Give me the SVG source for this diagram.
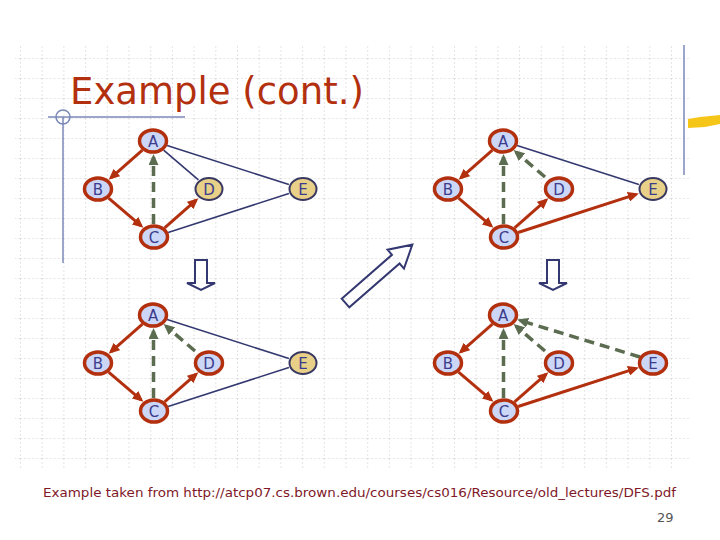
<svg xmlns="http://www.w3.org/2000/svg" width="720" height="540" viewBox="0 0 720 540">
<defs>
<pattern id="grid" x="20" y="58" width="21.7" height="20" patternUnits="userSpaceOnUse">
<path d="M0 0H21.7M0 0V20" stroke="#cccccc" stroke-width="1" stroke-dasharray="2 2" fill="none"/>
</pattern>
<marker id="ar" markerUnits="userSpaceOnUse" markerWidth="12" markerHeight="10" refX="8" refY="5" orient="auto">
<path d="M0,0 L11,5 L0,10 z" fill="#b3300f"/>
</marker>
<marker id="ag" markerUnits="userSpaceOnUse" markerWidth="12" markerHeight="10" refX="8" refY="5" orient="auto">
<path d="M0,0 L11,5 L0,10 z" fill="#5c6c50"/>
</marker>
</defs>
<style>
.v ellipse{fill:#ccd6f6;stroke:#b3300f;stroke-width:3.5}
.u ellipse{fill:#e8d088;stroke:#383862;stroke-width:2}
.n text{font-family:"DejaVu Sans",Verdana,sans-serif;font-size:15px;fill:#3c3c8c;text-anchor:middle}
.t{stroke:#b3300f;stroke-width:3;fill:none;marker-end:url(#ar)}
.b{stroke:#5c6c50;stroke-width:3.5;fill:none;stroke-dasharray:10 6;marker-end:url(#ag)}
.x{stroke:#343870;stroke-width:1.6;fill:none}
.big{fill:none;stroke:#343870;stroke-width:2;stroke-linejoin:miter}
</style>
<rect width="720" height="540" fill="#ffffff"/>
<rect x="15" y="46" width="675" height="422" fill="url(#grid)"/>

<g id="decor">
<line x1="48" y1="117" x2="185" y2="117" stroke="#7a88b8" stroke-width="1.5"/>
<circle cx="63" cy="117" r="7" fill="none" stroke="#7a88b8" stroke-width="1.5"/>
<line x1="63" y1="117" x2="63" y2="263" stroke="#7a88b8" stroke-width="1.5"/>
<line x1="684" y1="45" x2="684" y2="175" stroke="#7a88b8" stroke-width="1.5"/>
<polygon points="688,119 700,117 720,115 720,124 705,127 688,128" fill="#f5c518"/>
</g>

<text x="70" y="104" font-family="'DejaVu Sans',Verdana,sans-serif" font-size="37" fill="#b3300f">Example (cont.)</text>

<g id="connectors">
<g transform="translate(153,141)">
<line class="x" x1="10.6" y1="9.1" x2="45.4" y2="38.9"/>
<line class="x" x1="14.1" y1="4.5" x2="135.9" y2="43.5"/>
<line class="x" x1="15.1" y1="91.5" x2="135.9" y2="52.5"/>
<line class="t" x1="-10.6" y1="9.2" x2="-42.1" y2="36.8"/>
<line class="t" x1="-44.4" y1="57.1" x2="-11.9" y2="84.9"/>
<line class="t" x1="11.6" y1="86.8" x2="43.1" y2="59.2"/>
<line class="b" x1="0.5" y1="83" x2="0.5" y2="16"/>
</g>
<g transform="translate(503,141)">
<line class="x" x1="14.1" y1="4.5" x2="135.9" y2="43.5"/>
<line class="t" x1="-10.6" y1="9.2" x2="-42.1" y2="36.8"/>
<line class="t" x1="-44.4" y1="57.1" x2="-11.9" y2="84.9"/>
<line class="t" x1="11.6" y1="86.8" x2="43.1" y2="59.2"/>
<line class="t" x1="15.1" y1="91.5" x2="133" y2="53.4"/>
<line class="b" x1="0.5" y1="83" x2="0.5" y2="16"/>
<line class="b" x1="42" y1="36" x2="12.9" y2="11"/>
</g>
<g transform="translate(153,315)">
<line class="x" x1="14.1" y1="4.5" x2="135.9" y2="43.5"/>
<line class="x" x1="15.1" y1="91.5" x2="135.9" y2="52.5"/>
<line class="t" x1="-10.6" y1="9.2" x2="-42.1" y2="36.8"/>
<line class="t" x1="-44.4" y1="57.1" x2="-11.9" y2="84.9"/>
<line class="t" x1="11.6" y1="86.8" x2="43.1" y2="59.2"/>
<line class="b" x1="0.5" y1="83" x2="0.5" y2="16"/>
<line class="b" x1="42" y1="36" x2="12.9" y2="11"/>
</g>
<g transform="translate(503,315)">
<line class="t" x1="-10.6" y1="9.2" x2="-42.1" y2="36.8"/>
<line class="t" x1="-44.4" y1="57.1" x2="-11.9" y2="84.9"/>
<line class="t" x1="11.6" y1="86.8" x2="43.1" y2="59.2"/>
<line class="t" x1="15.1" y1="91.5" x2="133" y2="53.4"/>
<line class="b" x1="0.5" y1="83" x2="0.5" y2="16"/>
<line class="b" x1="42" y1="36" x2="12.9" y2="11"/>
<line class="b" x1="137" y1="42" x2="17" y2="5.4"/>
</g>
</g>

<g id="g1-A" class="n v" transform="translate(153,141)"><ellipse rx="13.5" ry="11"/><text y="5.5">A</text></g>
<g id="g1-B" class="n v" transform="translate(98,189)"><ellipse rx="13.5" ry="11"/><text y="5.5">B</text></g>
<g id="g1-D" class="n u" transform="translate(209,189)"><ellipse rx="13.5" ry="11"/><text y="5.5">D</text></g>
<g id="g1-E" class="n u" transform="translate(303,189)"><ellipse rx="13.5" ry="11"/><text y="5.5">E</text></g>
<g id="g1-C" class="n v" transform="translate(154,237)"><ellipse rx="13.5" ry="11"/><text y="5.5">C</text></g>

<g id="g2-A" class="n v" transform="translate(503,141)"><ellipse rx="13.5" ry="11"/><text y="5.5">A</text></g>
<g id="g2-B" class="n v" transform="translate(448,189)"><ellipse rx="13.5" ry="11"/><text y="5.5">B</text></g>
<g id="g2-D" class="n v" transform="translate(559,189)"><ellipse rx="13.5" ry="11"/><text y="5.5">D</text></g>
<g id="g2-E" class="n u" transform="translate(653,189)"><ellipse rx="13.5" ry="11"/><text y="5.5">E</text></g>
<g id="g2-C" class="n v" transform="translate(504,237)"><ellipse rx="13.5" ry="11"/><text y="5.5">C</text></g>

<g id="g3-A" class="n v" transform="translate(153,315)"><ellipse rx="13.5" ry="11"/><text y="5.5">A</text></g>
<g id="g3-B" class="n v" transform="translate(98,363)"><ellipse rx="13.5" ry="11"/><text y="5.5">B</text></g>
<g id="g3-D" class="n v" transform="translate(209,363)"><ellipse rx="13.5" ry="11"/><text y="5.5">D</text></g>
<g id="g3-E" class="n u" transform="translate(303,363)"><ellipse rx="13.5" ry="11"/><text y="5.5">E</text></g>
<g id="g3-C" class="n v" transform="translate(154,411)"><ellipse rx="13.5" ry="11"/><text y="5.5">C</text></g>

<g id="g4-A" class="n v" transform="translate(503,315)"><ellipse rx="13.5" ry="11"/><text y="5.5">A</text></g>
<g id="g4-B" class="n v" transform="translate(448,363)"><ellipse rx="13.5" ry="11"/><text y="5.5">B</text></g>
<g id="g4-D" class="n v" transform="translate(559,363)"><ellipse rx="13.5" ry="11"/><text y="5.5">D</text></g>
<g id="g4-E" class="n v" transform="translate(653,363)"><ellipse rx="13.5" ry="11"/><text y="5.5">E</text></g>
<g id="g4-C" class="n v" transform="translate(504,411)"><ellipse rx="13.5" ry="11"/><text y="5.5">C</text></g>

<g id="arrow-down-left"><polygon class="big" points="195,260 207,260 207,283 215,283 201,290 187,283 195,283"/></g>
<g id="arrow-down-right"><polygon class="big" points="547,260 559,260 559,283 567,283 553,290 539,283 547,283"/></g>
<g id="arrow-diag"><polygon class="big" transform="translate(345.5,303) rotate(-41.1)" points="0,-5.8 66.7,-5.8 66.7,-12.5 88.7,0 66.7,12.5 66.7,5.8 0,5.8"/></g>

<text x="43" y="497" font-family="'DejaVu Sans',sans-serif" font-size="12.5" fill="#801828" textLength="633" lengthAdjust="spacingAndGlyphs">Example taken from http://atcp07.cs.brown.edu/courses/cs016/Resource/old_lectures/DFS.pdf</text>
<text x="657" y="522" font-family="'DejaVu Sans',sans-serif" font-size="13" fill="#555555">29</text>
</svg>
